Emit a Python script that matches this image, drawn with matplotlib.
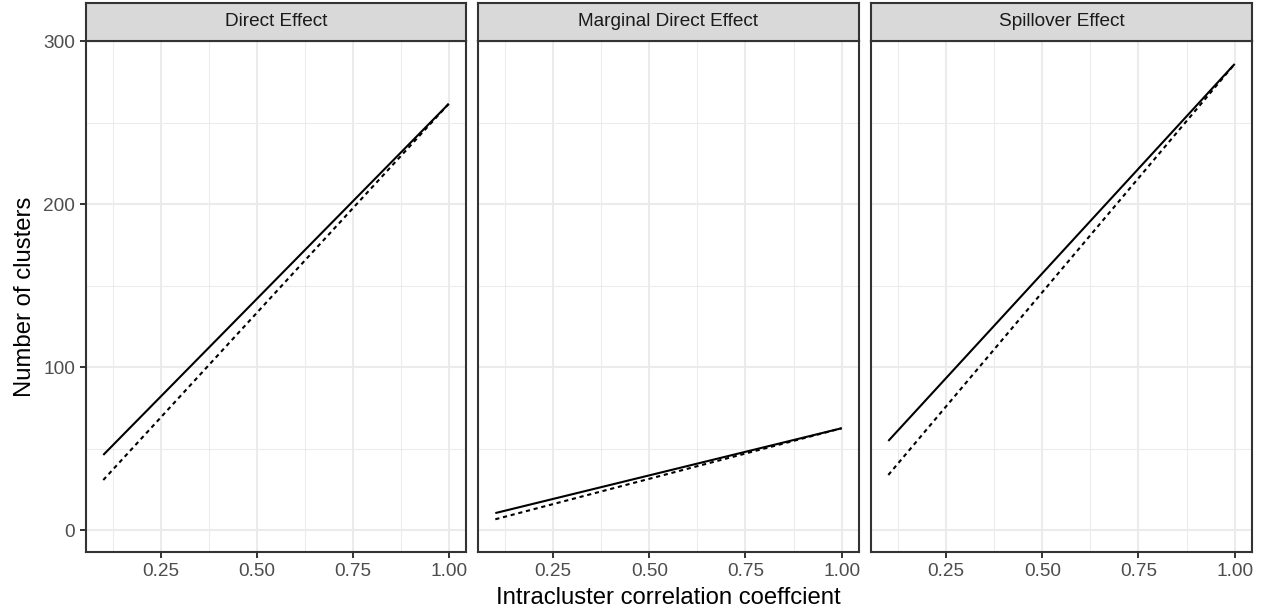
import numpy as np
import matplotlib
matplotlib.use("Agg")
import matplotlib.pyplot as plt
from matplotlib.ticker import MultipleLocator

plt.rcParams['font.family'] = ['Liberation Sans', 'DejaVu Sans']

# data
panels = ["Direct Effect", "Marginal Direct Effect", "Spillover Effect"]
icc = [0.1, 1.0]
solid = [[46.1, 261.7], [10.4, 62.5], [54.7, 286.2]]
dashed = [[30.7, 261.7], [6.6, 62.5], [33.8, 286.2]]

W, H = 1265, 611
fig = plt.figure(figsize=(W / 100, H / 100), dpi=100)

lefts = [86, 478, 871]
rights = [466, 859, 1252]
top, bottom, strip_top = 41, 552, 3

grid_major = "#EBEBEB"
border = "#333333"

for i, name in enumerate(panels):
    l, r = lefts[i], rights[i]
    ax = fig.add_axes([l / W, 1 - bottom / H, (r - l) / W, (bottom - top) / H])
    ax.plot(icc, solid[i], color="black", lw=1.5, solid_capstyle="butt")
    ax.plot(icc, dashed[i], color="black", lw=1.5, ls=(0, (2.0, 1.8)))
    ax.set_xlim(0.055, 1.045)
    ax.set_ylim(-13.5, 300.3)
    ax.xaxis.set_minor_locator(MultipleLocator(0.125))
    ax.yaxis.set_minor_locator(MultipleLocator(50))
    ax.set_xticks([0.25, 0.5, 0.75, 1.0])
    ax.set_xticklabels(["0.25", "0.50", "0.75", "1.00"])
    ax.set_yticks([0, 100, 200, 300])
    ax.grid(which="major", color=grid_major, lw=1.5)
    ax.grid(which="minor", color=grid_major, lw=0.75)
    ax.set_axisbelow(True)
    for s in ax.spines.values():
        s.set_color(border)
        s.set_linewidth(1.5)
    ax.tick_params(which="major", length=4.5, width=1.4, color=border,
                   labelsize=13.7, labelcolor="#4D4D4D", pad=3.5)
    ax.tick_params(which="minor", length=0)
    if i == 0:
        ax.set_ylabel("Number of clusters", fontsize=17.2, labelpad=5)
    else:
        ax.tick_params(axis="y", which="major", length=0, labelleft=False)
    if i == 1:
        ax.set_xlabel("Intracluster correlation coeffcient", fontsize=17.2, labelpad=5)

    sax = fig.add_axes([l / W, 1 - top / H, (r - l) / W, (top - strip_top) / H])
    sax.set_facecolor("#D9D9D9")
    sax.set_xticks([])
    sax.set_yticks([])
    for s in sax.spines.values():
        s.set_color(border)
        s.set_linewidth(1.5)
    sax.text(0.5, 0.5, name, ha="center", va="center", fontsize=13.7,
             color="#1A1A1A", transform=sax.transAxes)

fig.savefig("out.png", dpi=100)
